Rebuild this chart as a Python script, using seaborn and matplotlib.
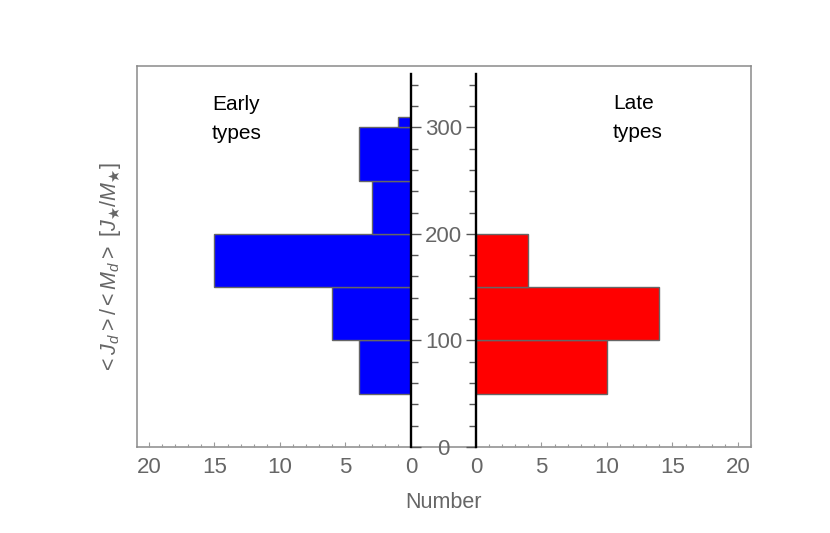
import matplotlib
matplotlib.use('Agg')
import matplotlib.pyplot as plt
import seaborn as sns
import numpy as np
from matplotlib.ticker import MultipleLocator

# Data
early_edges = [50, 100, 150, 200, 250, 300, 310]
early_mid = [75, 125, 175, 225, 275, 305]
early_counts = [4, 6, 15, 3, 4, 1]

late_edges = [50, 100, 150, 200]
late_mid = [75, 125, 175]
late_counts = [10, 14, 4]

x_ticks = [0, 5, 10, 15, 20]
y_ticks = [0, 100, 200, 300]

sns.set_style('white')
plt.rcParams['font.family'] = ['Liberation Sans', 'DejaVu Sans']
plt.rcParams['mathtext.fontset'] = 'custom'
plt.rcParams['mathtext.rm'] = 'Liberation Sans'
plt.rcParams['mathtext.it'] = 'Liberation Sans:italic'
plt.rcParams['mathtext.fallback'] = 'stixsans'

W, H = 830, 533
fig = plt.figure(figsize=(8.3, 5.33), dpi=100)

def rect(x0, x1, y0=65.5, y1=447):
    return [x0 / W, 1 - y1 / H, (x1 - x0) / W, (y1 - y0) / H]

gray = '#666666'

# outer frame
frame = fig.add_axes(rect(136.5, 751))
frame.set_xticks([])
frame.set_yticks([])
for s in frame.spines.values():
    s.set_color('#8a8a8a')
    s.set_linewidth(1.1)
frame.patch.set_alpha(0)

ax_l = fig.add_axes(rect(136.5, 411))
ax_r = fig.add_axes(rect(476, 751))

sns.histplot(y=early_mid, weights=early_counts, bins=early_edges, ax=ax_l,
             color='#0000ff', edgecolor=gray, alpha=1, linewidth=1)
sns.histplot(y=late_mid, weights=late_counts, bins=late_edges, ax=ax_r,
             color='#ff0000', edgecolor=gray, alpha=1, linewidth=1)

ax_l.set_xlim(20.95, 0)
ax_r.set_xlim(0, 21.0)

for ax, side in ((ax_l, 'right'), (ax_r, 'left')):
    ax.patch.set_alpha(0)
    ax.set_ylim(0, 358)
    ax.set_xlabel('')
    ax.set_ylabel('')
    for s in ax.spines.values():
        s.set_visible(False)
    sp = ax.spines[side]
    sp.set_visible(True)
    sp.set_color('black')
    sp.set_linewidth(1.7)
    sp.set_bounds(0, 350)
    sp.set_zorder(3)
    ax.set_xticks(x_ticks)
    ax.xaxis.set_minor_locator(MultipleLocator(1))
    ax.set_yticks(y_ticks)
    ax.yaxis.set_minor_locator(MultipleLocator(20))
    ax.tick_params(axis='x', which='both', direction='in', bottom=True, top=False,
                   color='#9a9a9a', width=0.8, labelsize=16, labelcolor=gray, pad=7)
    ax.tick_params(axis='x', which='major', length=3.8)
    ax.tick_params(axis='x', which='minor', length=2.2)
    if side == 'right':
        ax.yaxis.tick_right()
    else:
        ax.yaxis.tick_left()
    ax.tick_params(axis='y', which='both', direction='out', color='#555555', width=1.0)
    ax.tick_params(axis='y', which='major', length=7.2)
    ax.tick_params(axis='y', which='minor', length=4.8)

ax_l.tick_params(axis='y', which='major', labelsize=16, labelcolor=gray, pad=16.2)
for t in ax_l.get_yticklabels():
    t.set_ha('center')
ax_r.tick_params(axis='y', labelleft=False)

# panel annotations
fig.text(212 / W, 1 - 95 / H, 'Early\ntypes', fontsize=15, color='black',
         ha='left', va='top', linespacing=1.65)
fig.text(613 / W, 1 - 94 / H, 'Late\ntypes', fontsize=15, color='black',
         ha='left', va='top', linespacing=1.65)

fig.text(443.5 / W, 1 - 503 / H, 'Number', fontsize=15.5, color=gray,
         ha='center', va='center')
fig.text(110 / W, 1 - 268.5 / H,
         r'$<J_d>/<M_d>\ [J_\bigstar/M_\bigstar]$',
         fontsize=15.5, color=gray, rotation=90, ha='center', va='center')

fig.savefig('out.png', dpi=100)
